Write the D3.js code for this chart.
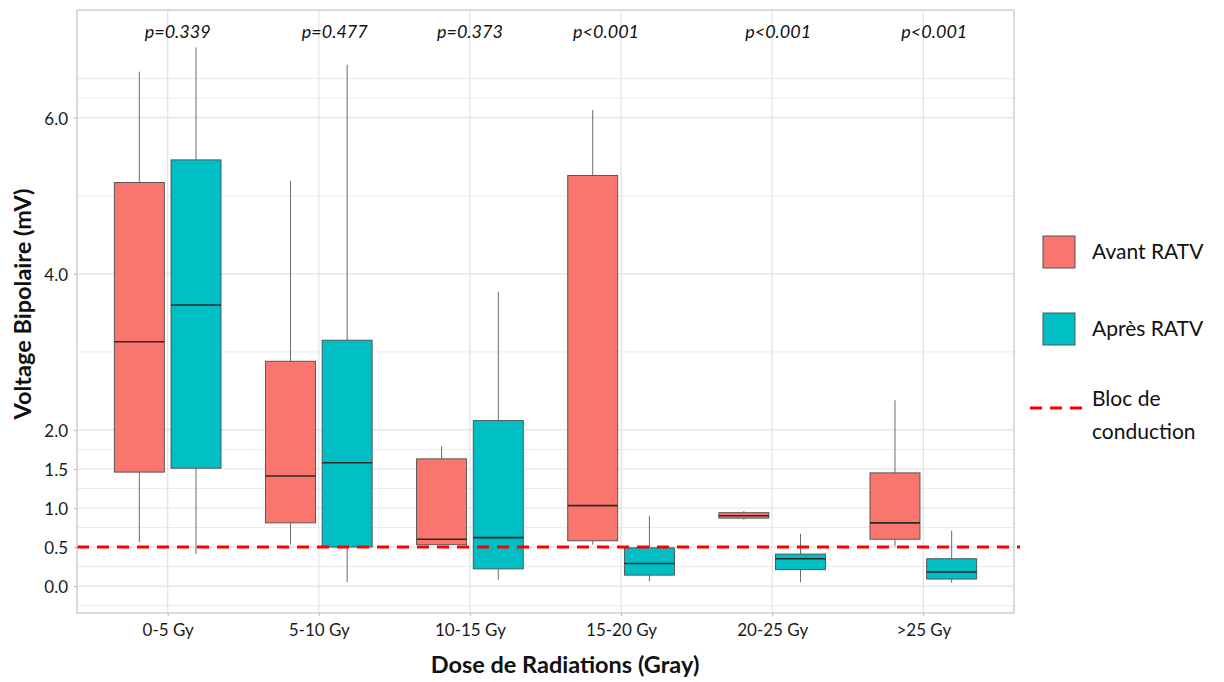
<!DOCTYPE html>
<html><head><meta charset="utf-8">
<script src="https://cdn.jsdelivr.net/npm/d3@7"></script>
<style>body{margin:0;background:#fff;}svg{display:block;font-family:Lato,"Open Sans",sans-serif;}</style>
</head><body><svg id="c" width="1224" height="682"></svg>
<script>
// ---- data ----
const categories = ["0-5 Gy","5-10 Gy","10-15 Gy","15-20 Gy","20-25 Gy",">25 Gy"];
const groups = ["Avant RATV","Après RATV"];
// [whiskerLow, Q1, median, Q3, whiskerHigh]
const avantStats = [
  [0.56,1.46,3.13,5.17,6.59],
  [0.53,0.81,1.41,2.88,5.19],
  [0.53,0.53,0.60,1.63,1.79],
  [0.53,0.58,1.03,5.26,6.10],
  [0.85,0.87,0.90,0.94,0.96],
  [0.51,0.60,0.81,1.45,2.38]
];
const apresStats = [
  [0.41,1.51,3.60,5.46,6.90],
  [0.05,0.50,1.58,3.15,6.68],
  [0.08,0.22,0.62,2.12,3.77],
  [0.06,0.14,0.29,0.49,0.90],
  [0.05,0.21,0.35,0.41,0.67],
  [0.04,0.09,0.18,0.35,0.71]
];
const pValues = ["p=0.339","p=0.477","p=0.373","p<0.001","p<0.001","p<0.001"];
const yTicks = [0,0.5,1,1.5,2,4,6];
const yMinor = [-0.25,0.25,0.75,1.25,1.75,3,5,6.25,6.5];
const thresholdValue = 0.5;
const thresholdLabel = ["Bloc de","conduction"];
const xTitle = "Dose de Radiations (Gray)";
const yTitle = "Voltage Bipolaire (mV)";

// ---- layout ----
const colors = ["#F8766D","#00BFC4"];
const L = 77, R = 1014, T = 10, B = 613;
const pOffsets = [10,16,0,-15,6,11];
const svg = d3.select("#c");

const x = d3.scalePoint().domain(categories).range([L,R]).padding(0.6);
const step = x.step();
const y = d3.scaleLinear().domain([-0.345,7.38]).range([B,T]);
const dodge = d3.scaleBand().domain(groups).range([-0.375*step,0.375*step]);
const boxW = 50;

// grid
const g = svg.append("g");
g.selectAll(".gm").data(yMinor).join("line")
 .attr("x1",L).attr("x2",R).attr("y1",d=>y(d)).attr("y2",d=>y(d))
 .attr("stroke","#ebebeb").attr("stroke-width",1);
g.selectAll(".gM").data(yTicks).join("line")
 .attr("x1",L).attr("x2",R).attr("y1",d=>y(d)).attr("y2",d=>y(d))
 .attr("stroke","#e2e2e2").attr("stroke-width",1.2);
g.selectAll(".gx").data(categories).join("line")
 .attr("x1",d=>x(d)).attr("x2",d=>x(d)).attr("y1",T).attr("y2",B)
 .attr("stroke","#e2e2e2").attr("stroke-width",1.2);

// axes
const yAxis = svg.append("g").attr("transform",`translate(${L},0)`)
 .call(d3.axisLeft(y).tickValues(yTicks).tickFormat(d3.format(".1f")).tickSize(3).tickPadding(6));
const xAxis = svg.append("g").attr("transform",`translate(0,${B})`)
 .call(d3.axisBottom(x).tickSize(3).tickPadding(8));
[yAxis,xAxis].forEach(a=>{
  a.select(".domain").remove();
  a.selectAll(".tick line").attr("stroke","#b3b3b3");
  a.selectAll("text").attr("fill","#1a1a1a").style("font-size","17px").style("font-family","Lato, sans-serif");
});
yAxis.selectAll("text").attr("dy","0.38em");

// boxes
const all = [avantStats, apresStats];
all.forEach((stats,gi)=>{
  const gg = svg.append("g");
  stats.forEach((s,i)=>{
    const cx = x(categories[i]) + dodge(groups[gi]) + dodge.bandwidth()/2;
    gg.append("line").attr("x1",cx).attr("x2",cx).attr("y1",y(s[3])).attr("y2",y(s[4]))
      .attr("stroke","#6b6b6b").attr("stroke-width",1);
    gg.append("line").attr("x1",cx).attr("x2",cx).attr("y1",y(s[1])).attr("y2",y(s[0]))
      .attr("stroke","#6b6b6b").attr("stroke-width",1);
    gg.append("rect").attr("x",cx-boxW/2).attr("width",boxW)
      .attr("y",y(s[3])).attr("height",Math.max(1,y(s[1])-y(s[3])))
      .attr("fill",colors[gi]).attr("stroke","#4d4d4d").attr("stroke-width",0.9);
    gg.append("line").attr("x1",cx-boxW/2).attr("x2",cx+boxW/2).attr("y1",y(s[2])).attr("y2",y(s[2]))
      .attr("stroke","#2a2a2a").attr("stroke-width",1.6);
  });
});

// threshold
svg.append("line").attr("x1",L).attr("x2",1020).attr("y1",y(thresholdValue)).attr("y2",y(thresholdValue))
 .attr("stroke","#ff0000").attr("stroke-width",3).attr("stroke-dasharray","12,8");

// panel border
svg.append("rect").attr("x",L).attr("y",T).attr("width",R-L).attr("height",B-T)
 .attr("fill","none").attr("stroke","#c4c4c4").attr("stroke-width",1.2);

// p-values
svg.selectAll(".pv").data(pValues).join("text")
 .attr("x",(d,i)=>x(categories[i])+pOffsets[i]).attr("y",38)
 .attr("text-anchor","middle").style("font-style","italic").style("font-size","18px")
 .attr("fill","#111").text(d=>d);

// titles
svg.append("text").attr("x",565).attr("y",673).attr("text-anchor","middle")
 .style("font-weight","bold").style("font-size","23.5px").attr("fill","#111").text(xTitle);
svg.append("text").attr("transform",`translate(31,304) rotate(-90)`).attr("text-anchor","middle")
 .style("font-weight","bold").style("font-size","23.5px").attr("fill","#111").text(yTitle);

// legend
const lg = svg.append("g");
groups.forEach((gname,i)=>{
  const yy = 236 + i*77;
  lg.append("rect").attr("x",1043).attr("y",yy).attr("width",32).attr("height",32)
    .attr("fill",colors[i]).attr("stroke","#555").attr("stroke-width",1);
  lg.append("text").attr("x",1092).attr("y",yy+16).attr("dy","0.35em")
    .style("font-size","21px").attr("fill","#111").text(gname);
});
lg.append("line").attr("x1",1030).attr("x2",1082).attr("y1",408).attr("y2",408)
 .attr("stroke","#ff0000").attr("stroke-width",3).attr("stroke-dasharray","12,8");
thresholdLabel.forEach((t,i)=>{
  lg.append("text").attr("x",1092).attr("y",399+i*33).attr("dy","0.35em")
    .style("font-size","21px").attr("fill","#111").text(t);
});
</script></body></html>
